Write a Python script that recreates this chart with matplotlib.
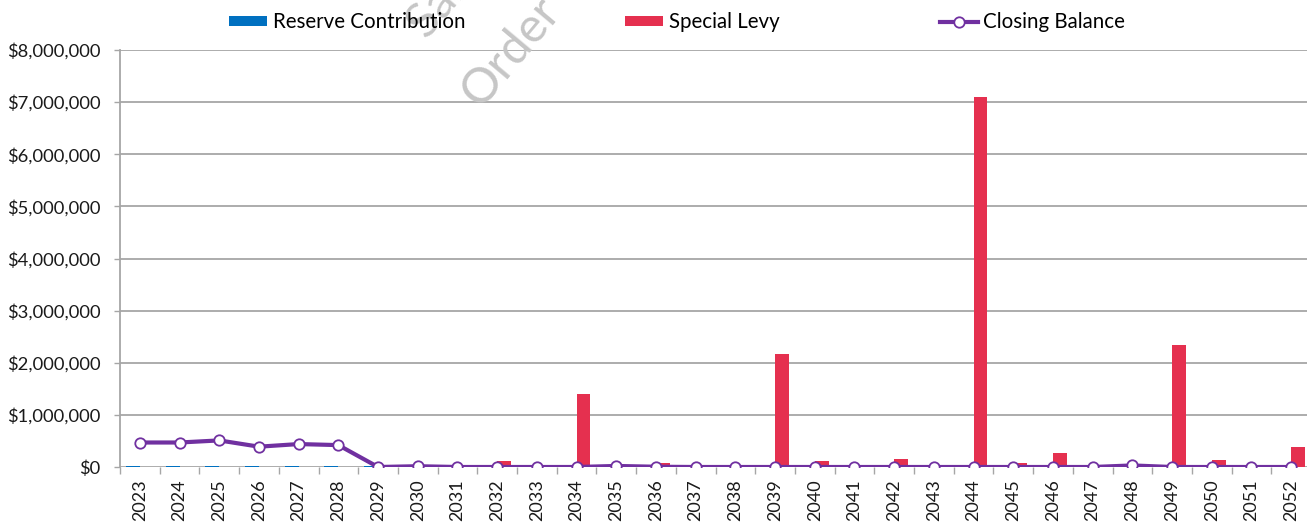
import numpy as np
import matplotlib
matplotlib.use("Agg")
from matplotlib import pyplot as plt
from matplotlib.ticker import FuncFormatter, MultipleLocator

plt.rcParams['font.family'] = ['Lato', 'DejaVu Sans']

# yearly figures
years = list(range(2023, 2053))
reserve = [15000] * 7 + [0] * 23
levy = [0, 0, 0, 0, 0, 0, 0, 0, 0,
        120000, 0, 1410000, 10000, 75000, 30000, 40000, 2170000, 110000,
        0, 150000, 20000, 7100000, 80000, 260000, 0, 0, 2350000, 130000,
        20000, 380000]
closing = [470000, 470000, 510000, 390000, 440000, 420000, 0, 15000, 0, 0,
           0, 0, 20000, 5000, 0, 0, 0, 0, 0, 0,
           0, 0, 0, 0, 0, 30000, 0, 0, 0, 0]

fig = plt.figure(figsize=(13.07, 5.22), dpi=100)
ax = fig.add_axes([120 / 1307, 55 / 522, 1191 / 1307, 417 / 522])

x = np.arange(len(years))
w = 0.35
b1 = ax.bar(x - w / 2, reserve, width=w, color='#0070c0', label='Reserve Contribution', zorder=2)
b2 = ax.bar(x + w / 2, levy, width=w, color='#e5304f', label='Special Levy', zorder=2)
l1, = ax.plot(x, closing, color='#7030a0', lw=3, marker='o', ms=7.5, mfc='white',
              mec='#7030a0', mew=1.3, label='Closing Balance', zorder=3)

ax.set_xlim(-0.5, len(years) - 0.5)
ax.set_ylim(0, 8000000)
ax.yaxis.set_major_locator(MultipleLocator(1000000))
ax.yaxis.set_major_formatter(FuncFormatter(lambda v, p: '${:,.0f}'.format(v)))
ax.grid(axis='y', color='#a6a6a6', lw=1.3, zorder=0)

ax.set_xticks(x)
ax.set_xticklabels([str(y) for y in years], rotation=90)
ax.set_xticks(np.arange(-0.5, len(years)), minor=True)
ax.tick_params(axis='x', which='major', length=0, pad=9, labelsize=13, colors='#1a1a1a')
ax.tick_params(axis='x', which='minor', length=5, width=1, color='#a6a6a6')
ax.tick_params(axis='y', length=4, width=1, color='#a6a6a6', pad=10, labelsize=13.2,
               labelcolor='#1a1a1a')

for s in ['top', 'right', 'bottom']:
    ax.spines[s].set_visible(False)
ax.spines['left'].set_color('#a6a6a6')
ax.spines['left'].set_linewidth(1.3)

fig.legend(handles=[b1, b2, l1], loc='upper center', bbox_to_anchor=(0.518, 1.012),
           ncol=3, frameon=False, fontsize=14.8, handlelength=1.85, handleheight=0.35,
           handletextpad=0.25, columnspacing=7.8, numpoints=1)

# faint watermark text
wm = dict(rotation=50, rotation_mode='anchor', ha='left', va='baseline',
          fontsize=35, color='#c6c6c6')
fig.text(426 / 1307, (522 - 40) / 522, 'Sample', **wm)
fig.text(481 / 1307, (522 - 109) / 522, 'Order', **wm)

fig.savefig('out.png', dpi=100)
